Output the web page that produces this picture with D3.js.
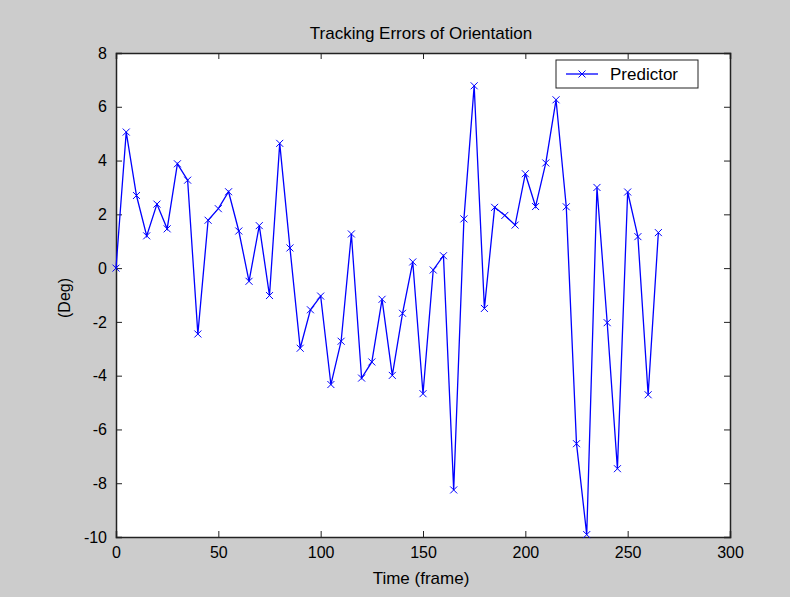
<!DOCTYPE html>
<html>
<head>
<meta charset="utf-8">
<script src="https://cdn.jsdelivr.net/npm/d3@7"></script>
<style>
  html, body { margin: 0; padding: 0; background: #cccccc; }
  svg { display: block; }
  text { font-family: "Liberation Sans", Arial, sans-serif; fill: #000; }
</style>
</head>
<body>
<svg id="chart" width="790" height="597"></svg>
<script>
const titleText = "Tracking Errors of Orientation";
const xLabel = "Time (frame)";
const yLabel = "(Deg)";
const seriesName = "Predictor";
const frames = [0,5,10,15,20,25,30,35,40,45,50,55,60,65,70,75,80,85,90,95,100,105,110,115,120,125,130,135,140,145,150,155,160,165,170,175,180,185,190,195,200,205,210,215,220,225,230,235,240,245,250,255,260,265];
const errors = [0,5.06,2.7,1.2,2.38,1.46,3.88,3.27,-2.45,1.78,2.21,2.84,1.38,-0.49,1.58,-1.02,4.64,0.75,-2.98,-1.55,-1.04,-4.33,-2.72,1.27,-4.09,-3.49,-1.16,-3.99,-1.68,0.23,-4.67,-0.07,0.46,-8.25,1.83,6.78,-1.5,2.26,1.96,1.6,3.51,2.29,3.91,6.26,2.28,-6.53,-9.91,3.0,-2.03,-7.46,2.83,1.17,-4.71,1.32];
const xTicks = [0,50,100,150,200,250,300];
const yTicks = [-10,-8,-6,-4,-2,0,2,4,6,8];

const svg = d3.select("#chart");
const L = 116, R = 730, T = 53, B = 537;
const x = d3.scaleLinear().domain([0,300]).range([L,R]);
const y = d3.scaleLinear().domain([-10,8]).range([B,T]);
const fmt = d => String(d);

svg.append("rect").attr("x",0).attr("y",0).attr("width",790).attr("height",597).attr("fill","#cccccc");
svg.append("rect").attr("x",L).attr("y",T).attr("width",R-L).attr("height",B-T).attr("fill","#ffffff");

const tickLen = 6;
const axisColor = "#222";
const axBottom = svg.append("g").attr("transform",`translate(0,${B})`)
  .call(d3.axisBottom(x).tickValues(xTicks).tickSize(-tickLen).tickPadding(10).tickFormat(fmt));
const axTop = svg.append("g").attr("transform",`translate(0,${T})`)
  .call(d3.axisTop(x).tickValues(xTicks).tickSize(-tickLen).tickFormat(""));
const axLeft = svg.append("g").attr("transform",`translate(${L},0)`)
  .call(d3.axisLeft(y).tickValues(yTicks).tickSize(-tickLen).tickPadding(9).tickFormat(fmt));
const axRight = svg.append("g").attr("transform",`translate(${R},0)`)
  .call(d3.axisRight(y).tickValues(yTicks).tickSize(-tickLen).tickFormat(""));

[axBottom, axTop, axLeft, axRight].forEach(g => {
  g.select(".domain").attr("stroke", axisColor).attr("stroke-width", 1.5);
  g.selectAll(".tick line").attr("stroke", axisColor).attr("stroke-width", 1);
  g.selectAll(".tick text").attr("font-size", 16).attr("fill","#000")
    .style("font-family", '"Liberation Sans", Arial, sans-serif');
});

const line = d3.line().x((d,i) => x(frames[i])).y(d => y(d));
svg.append("path").datum(errors).attr("d", line)
  .attr("fill","none").attr("stroke","#0000ff").attr("stroke-width",1.3);

const m = 3.5;
const marks = svg.append("g");
errors.forEach((v,i) => {
  const cx = x(frames[i]), cy = y(v);
  marks.append("path")
    .attr("d", `M${cx-m},${cy-m}L${cx+m},${cy+m}M${cx-m},${cy+m}L${cx+m},${cy-m}`)
    .attr("stroke","#0000ff").attr("stroke-width",1).attr("fill","none");
});

svg.append("text").attr("x",(L+R)/2 - 2).attr("y",39).attr("text-anchor","middle")
  .attr("font-size",17).text(titleText);
svg.append("text").attr("x",(L+R)/2 - 2).attr("y",584).attr("text-anchor","middle")
  .attr("font-size",17).text(xLabel);
svg.append("text").attr("transform",`translate(70,${(T+B)/2 + 3}) rotate(-90)`).attr("text-anchor","middle")
  .attr("font-size",16).text(yLabel);

const lg = svg.append("g");
lg.append("rect").attr("x",556).attr("y",60).attr("width",142).attr("height",28)
  .attr("fill","#ffffff").attr("stroke","#222").attr("stroke-width",1);
lg.append("line").attr("x1",566).attr("x2",598).attr("y1",74).attr("y2",74)
  .attr("stroke","#0000ff").attr("stroke-width",1.3);
lg.append("path").attr("d",`M${582-m},${74-m}L${582+m},${74+m}M${582-m},${74+m}L${582+m},${74-m}`)
  .attr("stroke","#0000ff").attr("stroke-width",1);
lg.append("text").attr("x",610).attr("y",80).attr("font-size",17).text(seriesName);
</script>
</body>
</html>
